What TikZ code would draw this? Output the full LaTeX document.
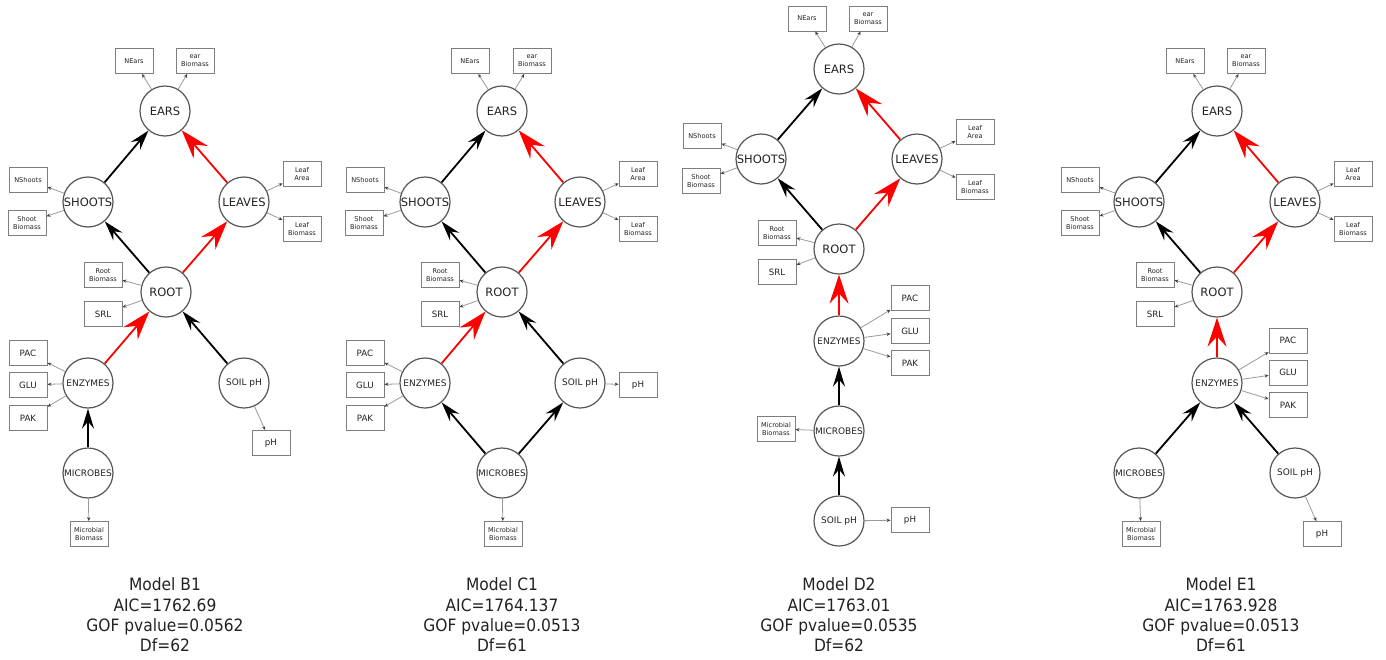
\documentclass[tikz,border=0pt]{standalone}
\usepackage{fontspec}
\setmainfont{DejaVu Sans}
\newfontfamily\capfont{DejaVu Sans}[FakeStretch=0.91]
\usetikzlibrary{arrows.meta}
\definecolor{circgray}{HTML}{555555}
\definecolor{boxgray}{HTML}{7E7E7E}
\definecolor{linegray}{HTML}{9A9A9A}
\definecolor{txt}{HTML}{222222}
\definecolor{redarrow}{HTML}{FF0000}
\tikzset{
  lat/.style={circle, draw=circgray, line width=1.2pt, minimum size=50pt, inner sep=0pt, text=txt, font=\fontsize{11.5}{12}\selectfont},
  latsm/.style={lat, font=\fontsize{9}{10}\selectfont},
  ind/.style={draw=boxgray, line width=0.9pt, minimum width=38pt, minimum height=25pt, inner sep=0pt, align=center, text=txt, font=\fontsize{6.6}{8.3}\selectfont},
  indbig/.style={ind, font=\fontsize{8.7}{10}\selectfont},
  blackpath/.style={-{Stealth[length=20pt,width=12pt,inset=7pt]}, line width=1.8pt, draw=black},
  redpath/.style={-{Stealth[length=29pt,width=19pt,inset=10pt]}, line width=1.8pt, draw=redarrow},
  load/.style={-{Stealth[length=4pt,width=3.4pt,color=black!75]}, draw=linegray, line width=0.8pt},
  captext/.style={align=center, text=txt, font=\capfont\fontsize{17}{20.4}\selectfont}
}
\begin{document}
\begin{tikzpicture}[x=1pt,y=-1pt]
\useasboundingbox (0,0) rectangle (1386,659);
% ================= Model B1 =================
\node[lat] (b-ears) at (165,111) {EARS};
\node[ind] (b-nears) at (134,61) {NEars};
\node[ind] (b-earb) at (195,61) {ear\\Biomass};
\node[lat] (b-shoots) at (88,202) {SHOOTS};
\node[ind] (b-nshoots) at (28,180) {NShoots};
\node[ind] (b-shootb) at (27,223) {Shoot\\Biomass};
\node[lat] (b-leaves) at (244,202) {LEAVES};
\node[ind] (b-leafa) at (302,174) {Leaf\\Area};
\node[ind] (b-leafb) at (302,229) {Leaf\\Biomass};
\node[lat] (b-root) at (166,292) {ROOT};
\node[ind] (b-rootb) at (103,275) {Root\\Biomass};
\node[indbig] (b-srl) at (103,314) {SRL};
\node[latsm] (b-enz) at (88,383) {ENZYMES};
\node[indbig] (b-pac) at (28,353) {PAC};
\node[indbig] (b-glu) at (28,385) {GLU};
\node[indbig] (b-pak) at (28,418) {PAK};
\node[latsm] (b-soil) at (244,383) {SOIL pH};
\node[indbig] (b-ph) at (271,443) {pH};
\node[latsm] (b-mic) at (88,473) {MICROBES};
\node[ind] (b-micb) at (89,534) {Microbial\\Biomass};
\draw[blackpath] (b-shoots) -- (b-ears);
\draw[redpath] (b-leaves) -- (b-ears);
\draw[blackpath] (b-root) -- (b-shoots);
\draw[redpath] (b-root) -- (b-leaves);
\draw[redpath] (b-enz) -- (b-root);
\draw[blackpath] (b-soil) -- (b-root);
\draw[blackpath] (b-mic) -- (b-enz);
\draw[load] (b-ears) -- (b-nears);
\draw[load] (b-ears) -- (b-earb);
\draw[load] (b-shoots) -- (b-nshoots);
\draw[load] (b-shoots) -- (b-shootb);
\draw[load] (b-leaves) -- (b-leafa);
\draw[load] (b-leaves) -- (b-leafb);
\draw[load] (b-root) -- (b-rootb);
\draw[load] (b-root) -- (b-srl);
\draw[load] (b-enz) -- (b-pac);
\draw[load] (b-enz) -- (b-glu);
\draw[load] (b-enz) -- (b-pak);
\draw[load] (b-soil) -- (b-ph);
\draw[load] (b-mic) -- (b-micb);
\node[captext] (b-cap) at (165,615) {Model B1\\AIC=1762.69\\GOF pvalue=0.0562\\Df=62};
% ================= Model C1 =================
\node[lat] (c-ears) at (502,111) {EARS};
\node[ind] (c-nears) at (470,61) {NEars};
\node[ind] (c-earb) at (532,61) {ear\\Biomass};
\node[lat] (c-shoots) at (425,202) {SHOOTS};
\node[ind] (c-nshoots) at (365,180) {NShoots};
\node[ind] (c-shootb) at (364,223) {Shoot\\Biomass};
\node[lat] (c-leaves) at (580,202) {LEAVES};
\node[ind] (c-leafa) at (638,174) {Leaf\\Area};
\node[ind] (c-leafb) at (638,229) {Leaf\\Biomass};
\node[lat] (c-root) at (502,292) {ROOT};
\node[ind] (c-rootb) at (440,275) {Root\\Biomass};
\node[indbig] (c-srl) at (440,314) {SRL};
\node[latsm] (c-enz) at (425,383) {ENZYMES};
\node[indbig] (c-pac) at (365,353) {PAC};
\node[indbig] (c-glu) at (365,385) {GLU};
\node[indbig] (c-pak) at (365,418) {PAK};
\node[latsm] (c-soil) at (580,383) {SOIL pH};
\node[indbig] (c-ph) at (638,385) {pH};
\node[latsm] (c-mic) at (502,473) {MICROBES};
\node[ind] (c-micb) at (503,534) {Microbial\\Biomass};
\draw[blackpath] (c-shoots) -- (c-ears);
\draw[redpath] (c-leaves) -- (c-ears);
\draw[blackpath] (c-root) -- (c-shoots);
\draw[redpath] (c-root) -- (c-leaves);
\draw[redpath] (c-enz) -- (c-root);
\draw[blackpath] (c-soil) -- (c-root);
\draw[blackpath] (c-mic) -- (c-enz);
\draw[blackpath] (c-mic) -- (c-soil);
\draw[load] (c-ears) -- (c-nears);
\draw[load] (c-ears) -- (c-earb);
\draw[load] (c-shoots) -- (c-nshoots);
\draw[load] (c-shoots) -- (c-shootb);
\draw[load] (c-leaves) -- (c-leafa);
\draw[load] (c-leaves) -- (c-leafb);
\draw[load] (c-root) -- (c-rootb);
\draw[load] (c-root) -- (c-srl);
\draw[load] (c-enz) -- (c-pac);
\draw[load] (c-enz) -- (c-glu);
\draw[load] (c-enz) -- (c-pak);
\draw[load] (c-soil) -- (c-ph);
\draw[load] (c-mic) -- (c-micb);
\node[captext] (c-cap) at (502,615) {Model C1\\AIC=1764.137\\GOF pvalue=0.0513\\Df=61};
% ================= Model D2 =================
\node[lat] (d-ears) at (839,69) {EARS};
\node[ind] (d-nears) at (807,18.5) {NEars};
\node[ind] (d-earb) at (868,18.5) {ear\\Biomass};
\node[lat] (d-shoots) at (761,159) {SHOOTS};
\node[ind] (d-nshoots) at (702,136) {NShoots};
\node[ind] (d-shootb) at (701,181) {Shoot\\Biomass};
\node[lat] (d-leaves) at (917,159) {LEAVES};
\node[ind] (d-leafa) at (975,132) {Leaf\\Area};
\node[ind] (d-leafb) at (975,187) {Leaf\\Biomass};
\node[lat] (d-root) at (839,249) {ROOT};
\node[ind] (d-rootb) at (777,233) {Root\\Biomass};
\node[indbig] (d-srl) at (777,272) {SRL};
\node[latsm] (d-enz) at (839,341) {ENZYMES};
\node[indbig] (d-pac) at (910,298) {PAC};
\node[indbig] (d-glu) at (910,331) {GLU};
\node[indbig] (d-pak) at (910,363) {PAK};
\node[latsm] (d-mic) at (839,431) {MICROBES};
\node[ind] (d-micb) at (776,429) {Microbial\\Biomass};
\node[latsm] (d-soil) at (839,521) {SOIL pH};
\node[indbig] (d-ph) at (910,520) {pH};
\draw[blackpath] (d-shoots) -- (d-ears);
\draw[redpath] (d-leaves) -- (d-ears);
\draw[blackpath] (d-root) -- (d-shoots);
\draw[redpath] (d-root) -- (d-leaves);
\draw[redpath] (d-enz) -- (d-root);
\draw[blackpath] (d-mic) -- (d-enz);
\draw[blackpath] (d-soil) -- (d-mic);
\draw[load] (d-ears) -- (d-nears);
\draw[load] (d-ears) -- (d-earb);
\draw[load] (d-shoots) -- (d-nshoots);
\draw[load] (d-shoots) -- (d-shootb);
\draw[load] (d-leaves) -- (d-leafa);
\draw[load] (d-leaves) -- (d-leafb);
\draw[load] (d-root) -- (d-rootb);
\draw[load] (d-root) -- (d-srl);
\draw[load] (d-enz) -- (d-pac);
\draw[load] (d-enz) -- (d-glu);
\draw[load] (d-enz) -- (d-pak);
\draw[load] (d-soil) -- (d-ph);
\draw[load] (d-mic) -- (d-micb);
\node[captext] (d-cap) at (839,615) {Model D2\\AIC=1763.01\\GOF pvalue=0.0535\\Df=62};
% ================= Model E1 =================
\node[lat] (e-ears) at (1217,111) {EARS};
\node[ind] (e-nears) at (1185,61) {NEars};
\node[ind] (e-earb) at (1246,61) {ear\\Biomass};
\node[lat] (e-shoots) at (1139,202) {SHOOTS};
\node[ind] (e-nshoots) at (1080,180) {NShoots};
\node[ind] (e-shootb) at (1080,223) {Shoot\\Biomass};
\node[lat] (e-leaves) at (1295,202) {LEAVES};
\node[ind] (e-leafa) at (1353,174) {Leaf\\Area};
\node[ind] (e-leafb) at (1353,229) {Leaf\\Biomass};
\node[lat] (e-root) at (1217,292) {ROOT};
\node[ind] (e-rootb) at (1155,275) {Root\\Biomass};
\node[indbig] (e-srl) at (1155,314) {SRL};
\node[latsm] (e-enz) at (1217,383) {ENZYMES};
\node[indbig] (e-pac) at (1288,340.5) {PAC};
\node[indbig] (e-glu) at (1288,372.5) {GLU};
\node[indbig] (e-pak) at (1288,405) {PAK};
\node[latsm] (e-mic) at (1139,473) {MICROBES};
\node[ind] (e-micb) at (1141,534) {Microbial\\Biomass};
\node[latsm] (e-soil) at (1295,473) {SOIL pH};
\node[indbig] (e-ph) at (1322,534) {pH};
\draw[blackpath] (e-shoots) -- (e-ears);
\draw[redpath] (e-leaves) -- (e-ears);
\draw[blackpath] (e-root) -- (e-shoots);
\draw[redpath] (e-root) -- (e-leaves);
\draw[redpath] (e-enz) -- (e-root);
\draw[blackpath] (e-mic) -- (e-enz);
\draw[blackpath] (e-soil) -- (e-enz);
\draw[load] (e-ears) -- (e-nears);
\draw[load] (e-ears) -- (e-earb);
\draw[load] (e-shoots) -- (e-nshoots);
\draw[load] (e-shoots) -- (e-shootb);
\draw[load] (e-leaves) -- (e-leafa);
\draw[load] (e-leaves) -- (e-leafb);
\draw[load] (e-root) -- (e-rootb);
\draw[load] (e-root) -- (e-srl);
\draw[load] (e-enz) -- (e-pac);
\draw[load] (e-enz) -- (e-glu);
\draw[load] (e-enz) -- (e-pak);
\draw[load] (e-soil) -- (e-ph);
\draw[load] (e-mic) -- (e-micb);
\node[captext] (e-cap) at (1221,615) {Model E1\\AIC=1763.928\\GOF pvalue=0.0513\\Df=61};
\end{tikzpicture}
\end{document}
